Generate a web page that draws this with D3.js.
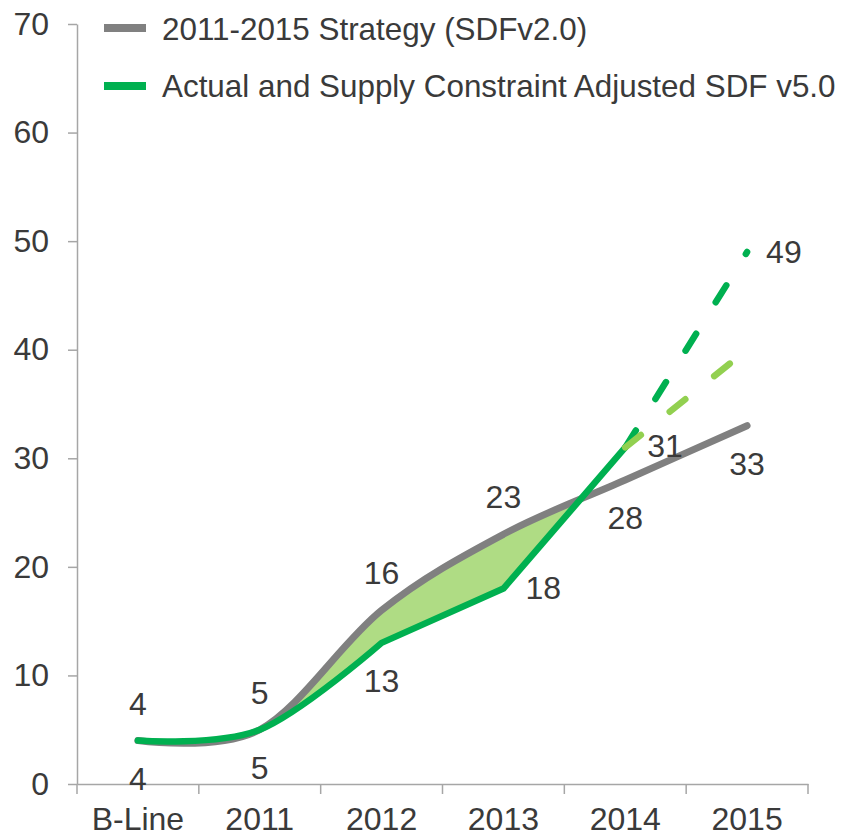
<!DOCTYPE html>
<html>
<head>
<meta charset="utf-8">
<script src="https://cdn.jsdelivr.net/npm/d3@7"></script>
<style>
  body { margin: 0; background: #fff; }
  svg text { font-family: "Liberation Sans", Arial, sans-serif; fill: #3a3a3a; }
</style>
</head>
<body>
<div id="chart"></div>
<script>
  // DATA
  const categories = ["B-Line", "2011", "2012", "2013", "2014", "2015"];
  const strategyValues = [4, 5, 16, 23, 28, 33];          // 2011-2015 Strategy (SDFv2.0)
  const actualValues = [4, 5, 13, 18, 31];                // actual, B-Line..2014
  const forecastHigh = [31, 49];                          // 2014 -> 2015, dashed dark green
  const forecastLow = [31, 40];                           // 2014 -> 2015, dashed light green
  const forecastCats = ["2014", "2015"];
  const strategyLabelPos = ["above", "above", "above", "above", "below", "below"];
  const actualLabelPos = ["below", "below", "below", "right", "right"];
  const yTicks = [0, 10, 20, 30, 40, 50, 60, 70];
  const legendLabels = ["2011-2015 Strategy (SDFv2.0)", "Actual and Supply Constraint Adjusted SDF v5.0"];

  const WIDTH = 847, HEIGHT = 836;
  const FONT = 32;
  const GRAY = "#808080", GREEN = "#00b050", LIGHT = "#92d050", FILL = "#afdc84", AXIS = "#a6a6a6";
  const M = { left: 77, right: 808, top: 24, bottom: 784 };

  const svg = d3.select("#chart").append("svg")
    .attr("width", WIDTH)
    .attr("height", HEIGHT);

  const x = d3.scaleBand().domain(categories).range([M.left, M.right]).padding(0);
  const y = d3.scaleLinear().domain([0, 70]).range([M.bottom, M.top]);
  const cx = c => x(c) + x.bandwidth() / 2;

  // Y AXIS
  const yAxis = svg.append("g")
    .attr("transform", `translate(${M.left},0)`)
    .call(d3.axisLeft(y).tickValues(yTicks).tickSize(9).tickPadding(19).tickSizeOuter(0));
  yAxis.select(".domain").attr("stroke", AXIS).attr("stroke-width", 1.5);
  yAxis.selectAll(".tick line").attr("stroke", AXIS).attr("stroke-width", 1.5);
  yAxis.selectAll("text").style("font-size", FONT + "px").attr("fill", "#3a3a3a");

  // X AXIS (labels centred, ticks at band edges)
  const xAxis = svg.append("g")
    .attr("transform", `translate(0,${M.bottom})`)
    .call(d3.axisBottom(x).tickSize(0).tickPadding(0).tickSizeOuter(0));
  xAxis.select(".domain").attr("stroke", AXIS).attr("stroke-width", 1.5);
  xAxis.selectAll("text")
    .attr("y", 46).attr("dy", null)
    .style("font-size", FONT + "px").attr("fill", "#3a3a3a");

  const edges = categories.map(c => x(c)).concat([x(categories[categories.length - 1]) + x.bandwidth()]);
  xAxis.selectAll(".edge")
    .data(edges)
    .enter().append("line")
    .attr("class", "edge")
    .attr("x1", d => d).attr("x2", d => d)
    .attr("y1", 0).attr("y2", 10)
    .attr("stroke", AXIS).attr("stroke-width", 1.5);

  // LINE GENERATORS
  const smooth = d3.line().x(d => cx(d.c)).y(d => y(d.v)).curve(d3.curveCardinal.tension(0));
  const straight = d3.line().x(d => cx(d.c)).y(d => y(d.v));

  const strategyPts = categories.map((c, i) => ({ c: c, v: strategyValues[i] }));
  const actualPts = actualValues.map((v, i) => ({ c: categories[i], v: v }));

  const grayPath = smooth(strategyPts);
  // actual: smoothed up to 2012, then straight segments
  const greenPath = smooth(actualPts.slice(0, 3)) + straight(actualPts.slice(2)).replace(/^M/, "L");

  // FILL BETWEEN STRATEGY AND ACTUAL
  const defs = svg.append("defs");
  const lastS = strategyPts[strategyPts.length - 1];
  const lastA = actualPts[actualPts.length - 1];
  defs.append("clipPath").attr("id", "below-gray")
    .append("path")
    .attr("d", grayPath + `L${cx(lastS.c)},${M.bottom}L${cx(categories[0])},${M.bottom}Z`);
  defs.append("clipPath").attr("id", "above-green")
    .append("path")
    .attr("d", greenPath + `L${cx(lastA.c)},0L${cx(categories[0])},0Z`);

  svg.append("g").attr("clip-path", "url(#above-green)")
    .append("rect")
    .attr("clip-path", "url(#below-gray)")
    .attr("x", cx("2011"))
    .attr("y", 0)
    .attr("width", cx("2014") - cx("2011"))
    .attr("height", M.bottom)
    .attr("fill", FILL);

  // LINES
  svg.append("path").attr("d", grayPath)
    .attr("fill", "none").attr("stroke", GRAY).attr("stroke-width", 7)
    .attr("stroke-linecap", "round").attr("stroke-linejoin", "round");

  svg.append("path").attr("d", greenPath)
    .attr("fill", "none").attr("stroke", GREEN).attr("stroke-width", 6.5)
    .attr("stroke-linecap", "round").attr("stroke-linejoin", "round");

  svg.append("path")
    .attr("d", straight(forecastCats.map((c, i) => ({ c: c, v: forecastHigh[i] }))))
    .attr("fill", "none").attr("stroke", GREEN).attr("stroke-width", 6.5)
    .attr("stroke-linecap", "round").attr("stroke-dasharray", "20 37");

  svg.append("path")
    .attr("d", straight(forecastCats.map((c, i) => ({ c: c, v: forecastLow[i] }))))
    .attr("fill", "none").attr("stroke", LIGHT).attr("stroke-width", 6.5)
    .attr("stroke-linecap", "round").attr("stroke-dasharray", "20 37");

  // DATA LABELS
  const placeLabel = (sel, pos) => sel
    .attr("x", d => cx(d.c) + (pos[d.i] === "right" ? 22 : 0))
    .attr("y", d => y(d.v) + (pos[d.i] === "above" ? -26 : pos[d.i] === "below" ? 49 : 10))
    .attr("text-anchor", d => pos[d.i] === "right" ? "start" : "middle")
    .style("font-size", FONT + "px")
    .text(d => d.v);

  svg.append("g").selectAll("text")
    .data(strategyPts.map((d, i) => ({ c: d.c, v: d.v, i: i })))
    .enter().append("text")
    .call(placeLabel, strategyLabelPos);

  svg.append("g").selectAll("text")
    .data(actualPts.map((d, i) => ({ c: d.c, v: d.v, i: i })))
    .enter().append("text")
    .call(placeLabel, actualLabelPos);

  svg.append("text")
    .attr("x", cx("2015") + 19)
    .attr("y", y(forecastHigh[1]) + 11)
    .style("font-size", FONT + "px")
    .text(forecastHigh[1]);

  // LEGEND
  const legend = svg.append("g");
  [GRAY, GREEN].forEach((col, i) => {
    legend.append("line")
      .attr("x1", 104).attr("x2", 146)
      .attr("y1", 28 + i * 58).attr("y2", 28 + i * 58)
      .attr("stroke", col).attr("stroke-width", 8);
    legend.append("text")
      .attr("x", 162)
      .attr("y", 40 + i * 57)
      .style("font-size", "31.4px")
      .text(legendLabels[i]);
  });
</script>
</body>
</html>
